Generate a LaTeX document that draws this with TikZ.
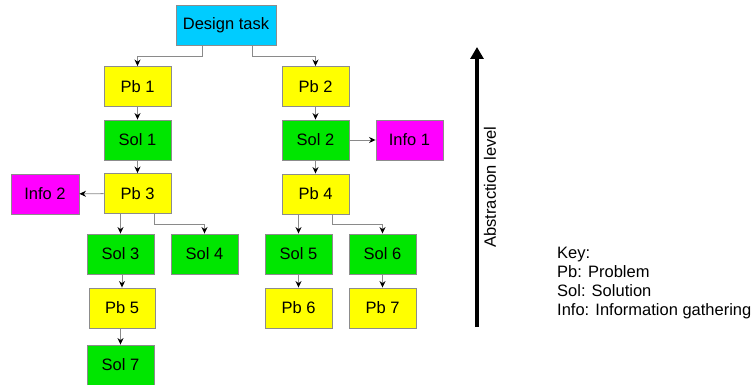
\documentclass[tikz,border=0pt]{standalone}
\usepackage{fontspec}
\setmainfont{Liberation Sans}
\usetikzlibrary{arrows.meta}
\definecolor{bordergray}{HTML}{8C8C8C}
\definecolor{linegray}{HTML}{8A8A8A}
\definecolor{cyanbox}{HTML}{00CCFF}
\definecolor{yellowbox}{HTML}{FFFF00}
\definecolor{greenbox}{HTML}{00E600}
\definecolor{magentabox}{HTML}{FF00FF}
\tikzset{
  box/.style={draw=bordergray, line width=0.9pt, minimum width=67pt, minimum height=40pt, inner sep=0pt, font=\fontsize{16.5}{19}\selectfont},
  pbbox/.style={box, fill=yellowbox},
  solbox/.style={box, fill=greenbox},
  infobox/.style={box, fill=magentabox},
  conn/.style={draw=linegray, line width=0.9pt, -{Stealth[length=6.5pt,width=6pt,black]}}
}
\begin{document}
\begin{tikzpicture}[x=1pt,y=-1pt]
\useasboundingbox (0,0) rectangle (755,385);
\node[box, fill=cyanbox, minimum width=100pt] (dt) at (226,25) {Design task};
\node[pbbox] (pb1) at (137.5,86.5) {Pb 1};
\node[solbox] (sol1) at (137.5,140) {Sol 1};
\node[pbbox] (pb3) at (137.5,193.5) {Pb 3};
\node[pbbox] (pb2) at (315.5,86.5) {Pb 2};
\node[solbox] (sol2) at (315.5,140) {Sol 2};
\node[pbbox] (pb4) at (315.5,194) {Pb 4};
\node[infobox] (info1) at (409.5,140) {Info 1};
\node[infobox, minimum width=68pt] (info2) at (45,194) {Info 2};
\node[solbox] (sol3) at (120.5,254) {Sol 3};
\node[solbox] (sol4) at (204.5,254) {Sol 4};
\node[pbbox, minimum width=66pt] (pb5) at (122,308) {Pb 5};
\node[solbox] (sol7) at (120.5,365) {Sol 7};
\node[solbox] (sol5) at (298.5,254) {Sol 5};
\node[solbox] (sol6) at (382.5,254) {Sol 6};
\node[pbbox] (pb6) at (298.5,308) {Pb 6};
\node[pbbox] (pb7) at (382.5,308) {Pb 7};

\draw[conn] ([xshift=-24pt]dt.south) -- ++(0pt,-11pt) -| (pb1.north);
\draw[conn] ([xshift=26pt]dt.south) -- ++(0pt,-11pt) -| (pb2.north);
\draw[conn] (pb1) -- (sol1);
\draw[conn] (sol1) -- (pb3);
\draw[conn] (pb2) -- (sol2);
\draw[conn] (sol2) -- (pb4);
\draw[conn] (sol2) -- (info1);
\draw[conn] (pb3) -- (info2);
\draw[conn] (pb3.south -| sol3.north) -- (sol3.north);
\draw[conn] ([xshift=16.5pt]pb3.south) -- ++(0pt,-10pt) -| (sol4.north);
\draw[conn] (sol3.south -| pb5.north) -- (pb5.north);
\draw[conn] (pb5.south -| sol7.north) -- (sol7.north);
\draw[conn] (pb4.south -| sol5.north) -- (sol5.north);
\draw[conn] ([xshift=16.5pt]pb4.south) -- ++(0pt,-10pt) -| (sol6.north);
\draw[conn] (sol5) -- (pb6);
\draw[conn] (sol6) -- (pb7);

\coordinate (abot) at (477,327);
\coordinate (atop) at (477,47);
\draw[line width=4pt, -{Triangle[length=12pt,width=13pt]}] (abot) -- (atop);
\node[rotate=90, font=\fontsize{16.5}{19}\selectfont, inner sep=0pt] (alabel) at (490,187) {Abstraction level};
\node[anchor=north west, align=left, inner sep=0pt, font=\fontsize{16.5}{19}\selectfont] (key) at (557,247) {Key:\\Pb: Problem\\Sol: Solution\\Info: Information gathering};
\end{tikzpicture}
\end{document}
